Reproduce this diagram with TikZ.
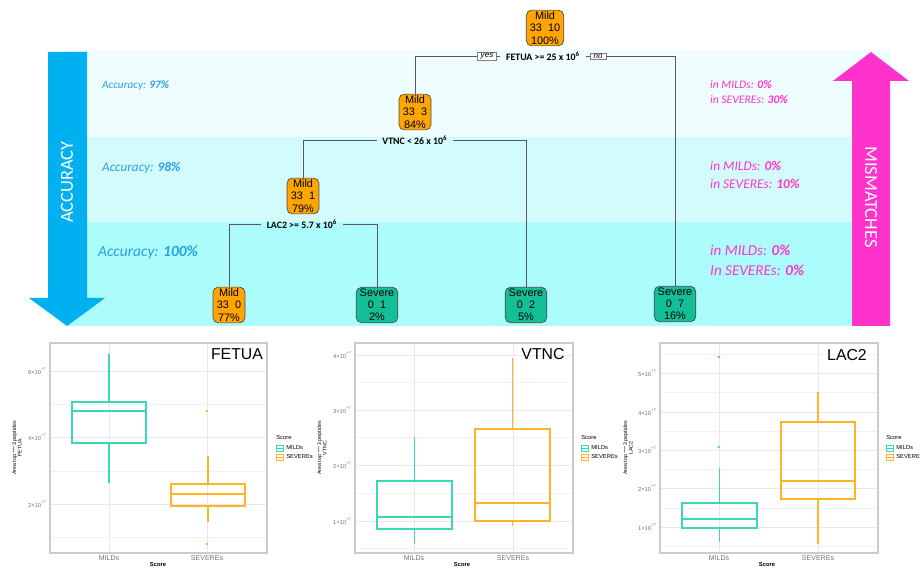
\documentclass[tikz,border=0pt]{standalone}
\usepackage{fontspec}
\setmainfont{Liberation Sans}
\newfontfamily\calfont{Carlito}

\definecolor{bandA}{RGB}{240,253,254}
\definecolor{bandB}{RGB}{212,251,252}
\definecolor{bandC}{RGB}{172,252,252}
\definecolor{accblue}{RGB}{0,176,240}
\definecolor{acctext}{RGB}{40,160,225}
\definecolor{mispink}{RGB}{255,51,204}
\definecolor{mildcol}{RGB}{255,165,0}
\definecolor{severecol}{RGB}{20,190,150}
\definecolor{milds}{RGB}{60,215,180}
\definecolor{severes}{RGB}{255,180,40}

\tikzstyle{leaf}=[draw=black!70,rounded corners=3pt,align=center,inner xsep=2pt,inner ysep=1pt,minimum width=0.64cm,minimum height=0.7cm,font=\fontsize{6.2}{6.9}\selectfont]
\tikzstyle{mild}=[leaf,fill=mildcol]
\tikzstyle{severe}=[leaf,fill=severecol]
\tikzstyle{split}=[inner xsep=3pt,inner ysep=0pt,font=\calfont\bfseries\fontsize{5.6}{6}\selectfont]
\tikzstyle{yesno}=[draw=black!50,fill=white,inner xsep=2pt,inner ysep=0.5pt,font=\itshape\fontsize{4.6}{5}\selectfont]
\tikzstyle{treeline}=[draw=black!65,line width=0.5pt]
\tikzstyle{acc}=[anchor=west,text=acctext,font=\calfont\itshape]
\tikzstyle{mis}=[anchor=west,align=left,text=mispink,font=\calfont\itshape]
\tikzstyle{frame}=[draw=black!20,line width=0.6pt]
\tikzstyle{major}=[draw=black!9,line width=0.5pt]
\tikzstyle{minor}=[draw=black!5,line width=0.35pt]
\tikzstyle{tick}=[anchor=east,text=black!55,inner sep=0pt,font=\fontsize{3.3}{3.6}\selectfont]
\tikzstyle{xlab}=[text=black!55,inner sep=0pt,font=\fontsize{4}{4.4}\selectfont]
\tikzstyle{ylab}=[rotate=90,align=center,inner sep=0pt,font=\fontsize{3}{3.2}\selectfont]
\tikzstyle{legtext}=[anchor=west,inner sep=0pt,font=\fontsize{3.3}{3.6}\selectfont]
\tikzstyle{title}=[inner sep=0pt,font=\fontsize{9}{10}\selectfont]

% one box: x1, x2, lower whisker, q1, median, q3, upper whisker, colour
\newcommand{\bxp}[8]{%
  \draw[#8,line width=0.8pt] (#1,#4) rectangle (#2,#6);
  \draw[#8,line width=1pt] (#1,#5) -- (#2,#5);
  \draw[#8,line width=0.8pt] ({(#1+#2)/2},#6) -- ({(#1+#2)/2},#7)
        ({(#1+#2)/2},#4) -- ({(#1+#2)/2},#3);
}
% legend of one panel, at x
\newcommand{\legend}[1]{%
  \node[legtext] (score#1) at (#1,438) {Score};
  \draw[milds,line width=0.5pt] (#1,445) rectangle (#1+7,451) (#1,448) -- (#1+7,448);
  \draw[severes,line width=0.5pt] (#1,454) rectangle (#1+7,460) (#1,457) -- (#1+7,457);
  \node[legtext] at (#1+10,448) {MILDs};
  \node[legtext] at (#1+10,457) {SEVEREs};
}

\begin{document}
\begin{tikzpicture}[x=0.02cm,y=-0.02cm]
\useasboundingbox (0,0) rectangle (920,570);

% bands
\fill[bandA] (67,50) rectangle (890,137);
\fill[bandB] (67,137) rectangle (890,222);
\fill[bandC] (67,222) rectangle (890,326);

% arrows
\fill[accblue] (48,52) -- (87,52) -- (87,298) -- (105,298) -- (67,326) -- (29,298) -- (48,298) -- cycle;
\fill[mispink] (852,326) -- (890,326) -- (890,81) -- (909,81) -- (871,52) -- (833,81) -- (852,81) -- cycle;
\node[rotate=90,text=white,font=\calfont\fontsize{10.5}{12}\selectfont] (acclbl) at (67,182) {ACCURACY};
\node[rotate=-90,text=white,font=\calfont\fontsize{10.5}{12}\selectfont] (mislbl) at (871,197) {MISMATCHES};

% accuracy and mismatches
\node[acc,font=\calfont\itshape\fontsize{6.4}{7}\selectfont] (acc97) at (96,86) {Accuracy: \textbf{97\%}};
\node[acc,font=\calfont\itshape\fontsize{7.5}{8}\selectfont] (acc98) at (96,168) {Accuracy: \textbf{98\%}};
\node[acc,font=\calfont\itshape\fontsize{8.8}{9}\selectfont] (acc100) at (92,252) {Accuracy: \textbf{100\%}};
\node[mis,font=\calfont\itshape\fontsize{6.6}{9}\selectfont] (mis30) at (704,92) {in MILDs: \textbf{0\%}\\in SEVEREs: \textbf{30\%}};
\node[mis,font=\calfont\itshape\fontsize{7.6}{10.2}\selectfont] (mis10) at (704,175) {in MILDs: \textbf{0\%}\\in SEVEREs: \textbf{10\%}};
\node[mis,font=\calfont\itshape\fontsize{8.6}{11.3}\selectfont] (mis0) at (704,260) {in MILDs: \textbf{0\%}\\In SEVEREs: \textbf{0\%}};

% tree
\node[mild] (root) at (545,28) {Mild\\33\ \ 10\\100\%};
\node[mild] (n84) at (415,112) {Mild\\33\ \ 3\\84\%};
\node[mild] (n79) at (303,196) {Mild\\33\ \ 1\\79\%};
\node[mild] (n77) at (229,305) {Mild\\33\ \ 0\\77\%};
\node[severe] (n2) at (377,305) {Severe\\0\ \ 1\\2\%};
\node[severe] (n5) at (526,305) {Severe\\0\ \ 2\\5\%};
\node[severe] (n16) at (675,304) {Severe\\0\ \ 7\\16\%};

\node[split] (s1) at (543,56) {FETUA >= 25 x 10\textsuperscript{6}};
\node[yesno] (yes) at (487,56) {yes};
\node[yesno] (no) at (598,56) {no};
\node[split] (s2) at (415,140) {VTNC < 26 x 10\textsuperscript{6}};
\node[split] (s3) at (302,224) {LAC2 >= 5.7 x 10\textsuperscript{6}};

\draw[treeline] (s1.west) -- (yes.east) (yes.west) -| (n84.north);
\draw[treeline] (s1.east) -- (no.west) (no.east) -| (n16.north);
\draw[treeline] (s2.west) -| (n79.north);
\draw[treeline] (s2.east) -| (n5.north);
\draw[treeline] (s3.west) -| (n77.north);
\draw[treeline] (s3.east) -| (n2.north);

% FETUA panel
\foreach \y in {404,471,537} \draw[minor] (50,\y) -- (267,\y);
\foreach \y in {371,437,504} \draw[major] (50,\y) -- (267,\y);
\foreach \x in {109,207} \draw[major] (\x,343) -- (\x,553);
\draw[frame] (50,343) rectangle (267,553);
\node[tick] at (47,371) {6×10\textsuperscript{+7}};
\node[tick] at (47,437) {4×10\textsuperscript{+7}};
\node[tick] at (47,504) {2×10\textsuperscript{+7}};
\bxp{72}{146}{483}{443}{411}{402}{354}{milds}
\bxp{171}{245}{522}{506}{494}{484}{456}{severes}
\fill[severes] (207,411) circle (1.3) (207,544) circle (1.3);
\node[title] (t1) at (237,354) {FETUA};
\node[ylab] at (16,448) {Area top$-$3 peptides\\FETUA};
\node[xlab] at (109,558) {MILDs};
\node[xlab] at (207,558) {SEVEREs};
\node[xlab,text=black,font=\bfseries\fontsize{3.3}{3.6}\selectfont] at (158,565) {Score};
\legend{276}

% VTNC panel
\foreach \y in {382,437,493,548} \draw[minor] (355,\y) -- (573,\y);
\foreach \y in {355,410,465,521} \draw[major] (355,\y) -- (573,\y);
\foreach \x in {414,513} \draw[major] (\x,343) -- (\x,553);
\draw[frame] (355,343) rectangle (573,553);
\node[tick] at (352,355) {4×10\textsuperscript{+7}};
\node[tick] at (352,410) {3×10\textsuperscript{+7}};
\node[tick] at (352,465) {2×10\textsuperscript{+7}};
\node[tick] at (352,521) {1×10\textsuperscript{+7}};
\bxp{377}{452}{544}{529}{517}{481}{437}{milds}
\bxp{475}{550}{526}{521}{503}{429}{358}{severes}
\node[title] (t2) at (543,354) {VTNC};
\node[ylab] at (321,448) {Area top$-$3 peptides\\VTNC};
\node[xlab] at (414,558) {MILDs};
\node[xlab] at (513,558) {SEVEREs};
\node[xlab,text=black,font=\bfseries\fontsize{3.3}{3.6}\selectfont] at (462,565) {Score};
\legend{581}

% LAC2 panel
\foreach \y in {354,392,431,469,508,546} \draw[minor] (660,\y) -- (878,\y);
\foreach \y in {373,412,450,488,527} \draw[major] (660,\y) -- (878,\y);
\foreach \x in {719,818} \draw[major] (\x,343) -- (\x,553);
\draw[frame] (660,343) rectangle (878,553);
\node[tick] at (657,373) {5×10\textsuperscript{+7}};
\node[tick] at (657,412) {4×10\textsuperscript{+7}};
\node[tick] at (657,450) {3×10\textsuperscript{+7}};
\node[tick] at (657,488) {2×10\textsuperscript{+7}};
\node[tick] at (657,527) {1×10\textsuperscript{+7}};
\bxp{682}{757}{542}{528}{519}{503}{468}{milds}
\bxp{781}{855}{544}{499}{481}{422}{392}{severes}
\fill[milds] (719,357) circle (1.3) (719,447) circle (1.3);
\node[title] (t3) at (847,355) {LAC2};
\node[ylab] at (627,448) {Area top$-$3 peptides\\LAC2};
\node[xlab] at (719,558) {MILDs};
\node[xlab] at (818,558) {SEVEREs};
\node[xlab,text=black,font=\bfseries\fontsize{3.3}{3.6}\selectfont] at (767,565) {Score};
\legend{886}
\end{tikzpicture}
\end{document}
